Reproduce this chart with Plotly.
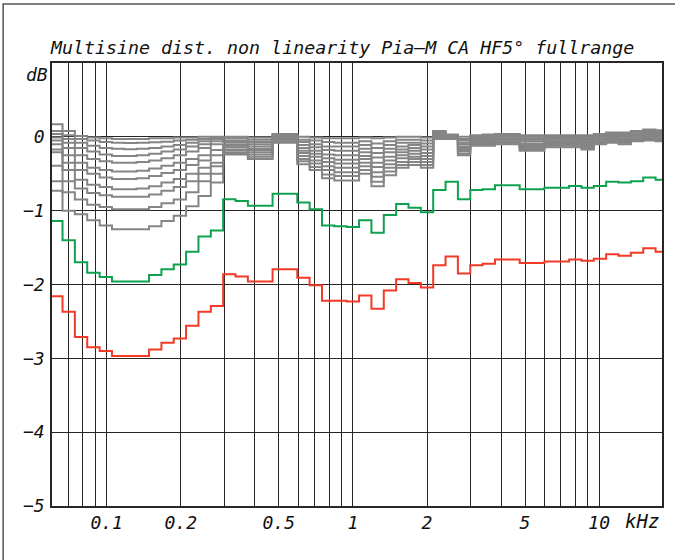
import math
import plotly.graph_objects as go

# 1/6-octave band edges (kHz); first/last bands are clipped by the axis range
BAND_EDGES_KHZ = [0.06, 0.0662, 0.0743, 0.0834, 0.0937, 0.1051, 0.118, 0.1324, 0.1487, 0.1669,
                  0.1873, 0.2102, 0.236, 0.2649, 0.2973, 0.3337, 0.3746, 0.4204, 0.4719, 0.5297,
                  0.5946, 0.6674, 0.7492, 0.8409, 0.9439, 1.0595, 1.1892, 1.3348, 1.4983, 1.6818,
                  1.8877, 2.1189, 2.3784, 2.6697, 2.9966, 3.3636, 3.7755, 4.2379, 4.7568, 5.3394,
                  5.9932, 6.7272, 7.551, 8.4757, 9.5137, 10.679, 11.987, 13.454, 15.102, 16.951, 18.0]

GREEN_DB = [-1.14, -1.40, -1.70, -1.84, -1.90, -1.96, -1.96, -1.96, -1.87, -1.795,
            -1.73, -1.555, -1.35, -1.27, -0.845, -0.87, -0.935, -0.935, -0.77, -0.77,
            -0.89, -0.98, -1.20, -1.21, -1.22, -1.13, -1.30, -1.06, -0.91, -0.96,
            -1.02, -0.72, -0.61, -0.845, -0.72, -0.71, -0.655, -0.655, -0.71, -0.71,
            -0.69, -0.69, -0.665, -0.69, -0.665, -0.61, -0.62, -0.60, -0.55, -0.58]

RED_DB = [-2.16, -2.37, -2.71, -2.85, -2.90, -2.97, -2.97, -2.97, -2.88, -2.79,
          -2.73, -2.56, -2.37, -2.29, -1.86, -1.89, -1.96, -1.96, -1.795, -1.795,
          -1.91, -2.01, -2.22, -2.22, -2.23, -2.15, -2.33, -2.08, -1.93, -1.98,
          -2.04, -1.74, -1.62, -1.85, -1.74, -1.72, -1.66, -1.66, -1.71, -1.71,
          -1.69, -1.69, -1.66, -1.68, -1.65, -1.59, -1.61, -1.57, -1.51, -1.555]

# gray curves, lower drive levels (top to bottom)
GRAY_1 = [0.17, 0.08, 0.01, -0.01, -0.02, -0.03, -0.03, -0.03, -0.02, -0.02, -0.01, -0.01, 0.0, 0.0,
          0.0, 0.0, -0.01, -0.01, 0.04, 0.04, 0.0, -0.01, -0.02, -0.02, -0.02, -0.01, -0.02, -0.01, 0.0, 0.0,
          -0.01, 0.08, 0.03, 0.0, 0.02, 0.03, 0.04, 0.04, 0.02, 0.02, 0.02, 0.02, 0.02, 0.02, 0.04,
          0.06, 0.06, 0.08, 0.10, 0.09]
GRAY_2 = [0.08, 0.02, -0.03, -0.05, -0.07, -0.08, -0.085, -0.08, -0.075, -0.065, -0.05, -0.04, -0.03, -0.01,
          -0.02, -0.02, -0.04, -0.04, 0.03, 0.03, -0.04, -0.05, -0.07, -0.08, -0.08, -0.06, -0.09, -0.06, -0.04, -0.04,
          -0.05, 0.07, 0.02, -0.03, 0.01, 0.02, 0.03, 0.03, 0.0, 0.0, 0.0, 0.0, 0.0, 0.0, 0.03,
          0.05, 0.04, 0.07, 0.09, 0.08]
GRAY_3 = [0.04, -0.03, -0.08, -0.12, -0.15, -0.16, -0.167, -0.16, -0.15, -0.13, -0.11, -0.08, -0.06, -0.03,
          -0.05, -0.05, -0.07, -0.07, 0.02, 0.02, -0.07, -0.10, -0.13, -0.13, -0.13, -0.11, -0.15, -0.11, -0.08, -0.08,
          -0.09, 0.06, 0.02, -0.05, -0.01, 0.0, 0.01, 0.01, -0.02, -0.02, -0.01, -0.01, -0.01, -0.02, 0.01,
          0.03, 0.03, 0.05, 0.07, 0.06]
GRAY_4 = [-0.01, -0.08, -0.15, -0.2, -0.24, -0.26, -0.26, -0.25, -0.23, -0.2, -0.17, -0.13, -0.1, -0.06,
          -0.07, -0.07, -0.10, -0.10, 0.0, 0.0, -0.11, -0.14, -0.18, -0.19, -0.19, -0.16, -0.22, -0.16, -0.13, -0.11,
          -0.13, 0.05, 0.01, -0.08, -0.02, -0.02, 0.0, 0.0, -0.04, -0.04, -0.03, -0.03, -0.03, -0.04, 0.0,
          0.02, 0.01, 0.04, 0.06, 0.05]
GRAY_5 = [-0.05, -0.15, -0.25, -0.3, -0.33, -0.35, -0.35, -0.34, -0.32, -0.29, -0.25, -0.2, -0.15, -0.1,
          -0.10, -0.10, -0.13, -0.13, -0.01, -0.01, -0.15, -0.19, -0.24, -0.25, -0.25, -0.21, -0.28, -0.21, -0.17, -0.15,
          -0.17, 0.04, 0.01, -0.10, -0.04, -0.03, -0.02, -0.02, -0.06, -0.06, -0.04, -0.04, -0.04, -0.06, -0.02,
          0.0, 0.0, 0.02, 0.04, 0.03]
GRAY_6 = [-0.10, -0.25, -0.35, -0.42, -0.45, -0.47, -0.47, -0.46, -0.43, -0.39, -0.35, -0.3, -0.25, -0.18,
          -0.12, -0.12, -0.16, -0.16, -0.02, -0.02, -0.19, -0.23, -0.29, -0.31, -0.31, -0.26, -0.35, -0.27, -0.21, -0.19,
          -0.22, 0.03, 0.0, -0.13, -0.05, -0.05, -0.03, -0.03, -0.09, -0.09, -0.06, -0.06, -0.06, -0.08, -0.03,
          -0.01, -0.02, 0.01, 0.03, 0.02]
GRAY_7 = [-0.17, -0.35, -0.45, -0.5, -0.55, -0.57, -0.57, -0.56, -0.53, -0.49, -0.45, -0.38, -0.32, -0.25,
          -0.14, -0.14, -0.18, -0.18, -0.03, -0.03, -0.22, -0.27, -0.34, -0.36, -0.36, -0.30, -0.41, -0.32, -0.25, -0.23,
          -0.26, 0.01, -0.01, -0.15, -0.06, -0.06, -0.04, -0.04, -0.11, -0.11, -0.08, -0.08, -0.08, -0.09, -0.04,
          -0.02, -0.04, 0.0, 0.01, 0.0]
GRAY_8 = [-0.21, -0.45, -0.58, -0.65, -0.68, -0.71, -0.71, -0.7, -0.67, -0.62, -0.57, -0.5, -0.42, -0.35,
          -0.17, -0.17, -0.21, -0.21, -0.04, -0.04, -0.26, -0.32, -0.40, -0.42, -0.42, -0.35, -0.48, -0.37, -0.29, -0.27,
          -0.30, 0.0, -0.01, -0.18, -0.08, -0.08, -0.06, -0.06, -0.13, -0.13, -0.09, -0.09, -0.09, -0.11, -0.06,
          -0.04, -0.05, -0.02, -0.01, -0.02]
GRAY_9 = [-0.39, -0.6, -0.7, -0.76, -0.79, -0.81, -0.81, -0.81, -0.78, -0.73, -0.68, -0.6, -0.5, -0.4,
          -0.19, -0.19, -0.24, -0.24, -0.06, -0.06, -0.30, -0.36, -0.45, -0.48, -0.48, -0.40, -0.54, -0.42, -0.34, -0.30,
          -0.34, -0.01, -0.02, -0.20, -0.09, -0.09, -0.07, -0.07, -0.15, -0.15, -0.11, -0.11, -0.11, -0.13, -0.07,
          -0.05, -0.07, -0.03, -0.02, -0.03]
GRAY_10 = [-0.60, -0.75, -0.85, -0.92, -0.95, -0.98, -0.98, -0.98, -0.95, -0.9, -0.85, -0.75, -0.6, -0.5,
           -0.22, -0.22, -0.27, -0.27, -0.07, -0.07, -0.33, -0.41, -0.51, -0.53, -0.53, -0.45, -0.61, -0.47, -0.38, -0.34,
           -0.38, -0.02, -0.02, -0.23, -0.11, -0.11, -0.09, -0.09, -0.17, -0.17, -0.12, -0.12, -0.12, -0.15, -0.09,
           -0.07, -0.08, -0.05, -0.04, -0.05]
GRAY_11 = [-0.73, -1.0, -1.05, -1.13, -1.2, -1.25, -1.25, -1.25, -1.21, -1.14, -1.07, -0.94, -0.8, -0.62,
           -0.24, -0.24, -0.30, -0.30, -0.08, -0.08, -0.37, -0.45, -0.56, -0.59, -0.59, -0.50, -0.67, -0.52, -0.42, -0.38,
           -0.42, -0.03, -0.03, -0.25, -0.12, -0.12, -0.10, -0.10, -0.19, -0.19, -0.14, -0.14, -0.14, -0.17, -0.10,
           -0.08, -0.10, -0.06, -0.05, -0.06]

GRAY_CURVES = [GRAY_1, GRAY_2, GRAY_3, GRAY_4, GRAY_5, GRAY_6, GRAY_7, GRAY_8, GRAY_9, GRAY_10, GRAY_11]

X_GRID_KHZ = [0.07, 0.08, 0.09, 0.1, 0.2, 0.3, 0.4, 0.5, 0.6, 0.7, 0.8, 0.9,
              1, 2, 3, 4, 5, 6, 7, 8, 9, 10]
X_LABELED = {0.1: "0.1", 0.2: "0.2", 0.5: "0.5", 1: "1", 2: "2", 5: "5", 10: "10"}
Y_TICKS = [0, -1, -2, -3, -4, -5]
Y_TICK_TEXT = ["0", "\u22121", "\u22122", "\u22123", "\u22124", "\u22125"]

TITLE = "Multisine dist. non linearity Pia\u2013M CA HF5\u00b0 fullrange"

GRID_COLOR = "#2a2423"
GRAY = "#858585"
GREEN = "#0ea14f"
RED = "#f23a26"
FONT = "DejaVu Sans Mono"
TXT = "#111111"

fig = go.Figure()


def add_step(vals, color):
    fig.add_trace(go.Scatter(
        x=BAND_EDGES_KHZ, y=list(vals) + [vals[-1]],
        mode="lines", line=dict(color=color, width=2, shape="hv"),
        hoverinfo="skip", showlegend=False))


for g in GRAY_CURVES:
    add_step(g, GRAY)
add_step(GREEN_DB, GREEN)
add_step(RED_DB, RED)

fig.update_layout(
    width=675, height=560,
    margin=dict(l=52, r=11, t=63, b=54),
    paper_bgcolor="white", plot_bgcolor="white",
    font=dict(family=FONT, color=TXT),
    xaxis=dict(
        type="log", range=[math.log10(0.06), math.log10(18.0)],
        tickvals=X_GRID_KHZ,
        ticktext=[X_LABELED.get(v, "") for v in X_GRID_KHZ],
        showgrid=True, gridcolor=GRID_COLOR, gridwidth=1.3,
        showline=True, mirror=True, linecolor=GRID_COLOR, linewidth=1.5,
        ticks="",
        tickfont=dict(size=18, family=FONT, style="italic", color=TXT),
        zeroline=False,
    ),
    yaxis=dict(
        range=[-5, 1],
        tickvals=Y_TICKS, ticktext=Y_TICK_TEXT,
        showgrid=True, gridcolor=GRID_COLOR, gridwidth=1.3,
        showline=True, mirror=True, linecolor=GRID_COLOR, linewidth=1.5,
        ticks="outside", ticklen=2, tickcolor="rgba(0,0,0,0)",
        tickfont=dict(size=18, family=FONT, style="italic", color=TXT),
        zeroline=False,
    ),
    annotations=[
        dict(text=TITLE, xref="paper", yref="paper", x=-0.007, y=1.034,
             xanchor="left", yanchor="middle", showarrow=False,
             font=dict(size=18.3, family=FONT, style="italic", color=TXT)),
        dict(text="dB", xref="paper", yref="paper", x=-0.003, y=0.975,
             xanchor="right", yanchor="middle", showarrow=False,
             font=dict(size=18, family=FONT, style="italic", color=TXT)),
        dict(text="kHz", xref="paper", yref="paper", x=0.999, y=-0.034,
             xanchor="right", yanchor="middle", showarrow=False,
             font=dict(size=19, family=FONT, style="italic", color=TXT)),
    ],
    shapes=[
        dict(type="rect", xref="paper", yref="paper",
             x0=-0.0801, x1=1.03, y0=-0.14, y1=1.133,
             line=dict(color="#555555", width=1.5), layer="below"),
    ],
)

fig.write_html("out.html")
